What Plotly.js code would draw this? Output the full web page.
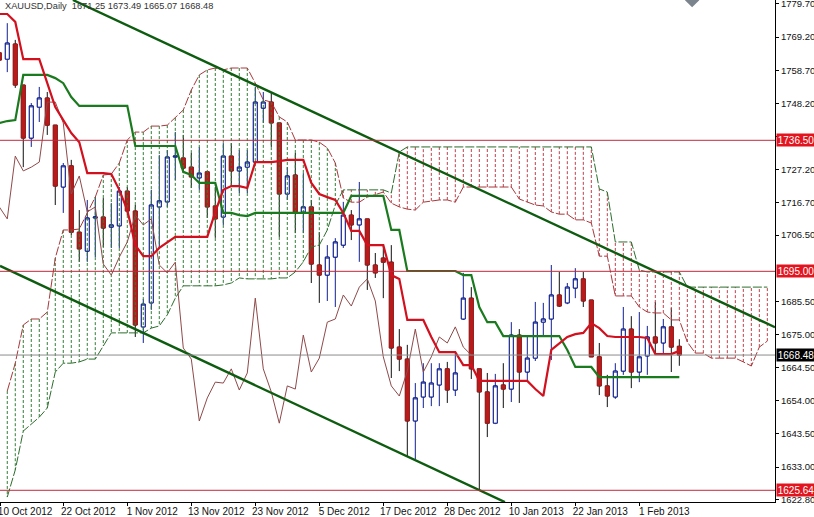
<!DOCTYPE html>
<html><head><meta charset="utf-8">
<script src="https://cdn.plot.ly/plotly-3.0.1.min.js"></script>
<style>html,body{margin:0;padding:0;background:#fff}#c{width:814px;height:517px}</style>
</head><body><div id="c"></div>
<script>
// bars -1 .. 84
const open=[1764.2,1762.2,1767.0,1754.0,1737.2,1747.0,1749.9,1741.3,1721.7,1728.4,
1707.4,1701.4,1711.9,1712.2,1709.0,1709.4,1720.4,1714.1,1677.4,1685.0,
1715.4,1717.0,1731.2,1730.9,1728.0,1724.6,1726.5,1715.7,1712.2,1731.5,
1726.8,1728.0,1729.6,1746.7,1748.6,1742.0,1719.5,1725.5,1713.8,1715.4,
1697.0,1693.8,1699.5,1703.3,1712.8,1709.7,1711.6,1697.0,1699.2,1697.9,
1671.0,1667.2,1647.6,1655.2,1655.2,1659.0,1664.1,1657.4,1679.9,1686.5,
1664.1,1656.8,1646.9,1659.0,1657.7,1674.8,1663.1,1667.5,1678.9,1679.9,
1687.5,1685.0,1689.7,1692.6,1685.9,1667.9,1658.7,1655.2,1663.4,1676.7,
1663.1,1668.2,1674.2,1672.3,1677.4,1671.25];
const high=[1768.3,1773.6,1768.3,1754.0,1748.3,1753.4,1751.8,1741.3,1729.3,1730.3,
1714.4,1717.6,1718.5,1718.2,1716.6,1721.7,1721.7,1716.0,1686.2,1720.8,
1731.8,1733.4,1739.1,1738.2,1732.5,1734.4,1726.5,1721.7,1735.6,1735.6,
1733.4,1733.4,1753.4,1751.8,1751.5,1742.0,1728.0,1732.5,1726.1,1717.6,
1707.4,1703.3,1705.5,1717.0,1714.4,1723.3,1711.6,1700.8,1703.3,1703.3,
1676.7,1671.7,1659.6,1665.9,1665.9,1665.9,1666.3,1669.1,1694.5,1690.0,
1664.1,1662.8,1662.5,1665.9,1678.9,1676.7,1674.2,1685.3,1685.0,1697.0,
1694.8,1691.3,1696.0,1694.8,1685.9,1672.3,1662.2,1665.9,1683.7,1680.8,
1682.1,1677.7,1685.3,1679.9,1683.4,1673.49];
const low=[1760.0,1758.1,1753.1,1728.0,1734.4,1742.3,1738.2,1716.0,1713.5,1706.5,
1698.0,1698.0,1699.5,1702.7,1702.4,1702.4,1712.8,1674.2,1672.3,1682.8,
1702.4,1715.4,1723.9,1726.1,1721.4,1720.8,1711.9,1705.6,1709.7,1721.7,
1719.8,1719.8,1729.3,1742.0,1734.4,1705.9,1717.6,1707.1,1707.1,1691.3,
1685.0,1685.6,1683.7,1702.4,1704.9,1698.0,1689.1,1692.9,1686.5,1661.2,
1663.4,1636.2,1635.5,1651.7,1652.3,1652.3,1653.3,1655.5,1679.6,1660.9,
1625.7,1642.5,1646.6,1651.7,1653.6,1653.3,1660.3,1666.6,1674.2,1666.9,
1683.7,1684.6,1686.5,1683.7,1667.9,1655.8,1652.0,1654.6,1662.2,1658.0,
1659.9,1662.2,1668.8,1668.8,1663.1,1665.07];
const close=[1761.9,1767.3,1754.0,1737.2,1747.4,1749.9,1741.3,1722.0,1728.4,1707.4,
1702.1,1711.9,1712.2,1708.7,1709.7,1720.4,1714.1,1678.0,1684.6,1716.0,
1717.3,1731.2,1731.5,1727.7,1724.9,1726.1,1715.4,1711.6,1731.5,1726.8,
1728.0,1729.6,1748.6,1748.6,1742.0,1719.5,1725.2,1713.8,1715.4,1697.3,
1693.8,1699.5,1704.3,1712.8,1709.7,1711.6,1697.0,1694.5,1697.9,1670.7,
1667.2,1647.6,1654.9,1659.9,1659.6,1664.1,1657.4,1662.8,1686.5,1664.1,
1656.8,1646.9,1658.7,1657.7,1674.8,1663.1,1667.5,1678.9,1679.9,1687.5,
1684.0,1690.0,1692.6,1685.6,1667.9,1658.7,1655.5,1663.4,1676.7,1663.1,
1667.9,1674.2,1672.3,1677.4,1671.0,1668.48];
const tenkan=[1776.5,1776.5,1774.0,1762.2,1762.2,1762.2,1754.6,1747.0,1742.9,1738.8,
1735.9,1726.1,1726.1,1726.1,1725.8,1720.8,1714.4,1703.3,1699.8,1699.8,
1702.4,1704.3,1705.9,1705.9,1705.9,1705.9,1705.9,1713.8,1720.8,1722.0,
1722.0,1721.4,1729.6,1729.6,1729.6,1729.9,1730.3,1730.3,1730.3,1723.0,
1719.5,1718.5,1717.6,1713.5,1707.8,1707.8,1703.3,1703.3,1703.3,1693.8,
1692.6,1679.6,1679.6,1679.6,1674.2,1669.4,1669.4,1669.4,1665.3,1665.3,
1660.3,1660.3,1660.3,1660.3,1660.3,1660.3,1660.3,1657.7,1655.5,1670.1,
1672.3,1674.2,1675.1,1675.5,1678.6,1677.0,1674.5,1674.2,1674.2,1674.2,
1674.2,1673.9,1668.8,1668.8,1668.8,1669.8];
const kijun=[1742.0,1742.6,1742.9,1757.2,1757.2,1757.2,1757.2,1756.2,1754.6,1750.2,
1747.4,1747.4,1747.4,1747.4,1747.4,1747.4,1747.4,1734.7,1734.7,1734.7,
1734.7,1734.7,1734.7,1726.5,1725.5,1723.0,1723.0,1723.0,1713.5,1713.5,
1712.8,1712.5,1713.5,1713.5,1713.5,1713.5,1713.5,1713.5,1713.5,1713.5,
1713.5,1713.5,1713.5,1713.5,1718.9,1718.9,1718.9,1718.9,1718.9,1708.1,
1708.1,1695.1,1695.1,1695.1,1695.1,1695.1,1695.1,1695.1,1693.8,1693.8,
1683.7,1678.9,1678.9,1674.5,1674.5,1674.5,1674.5,1674.5,1674.5,1674.5,
1674.5,1670.1,1664.7,1664.7,1664.7,1661.5,1661.5,1661.5,1661.5,1661.5,
1661.5,1661.5,1661.5,1661.5,1661.5,1661.5];
// bars -1 .. 58
const chikou=[1715.4,1711.6,1731.5,1726.8,1728.0,1729.6,1748.6,1748.6,1742.0,1719.5,
1725.2,1713.8,1715.4,1697.3,1693.8,1699.5,1704.3,1712.8,1709.7,1711.6,
1697.0,1694.5,1697.9,1670.7,1667.2,1647.6,1654.9,1659.9,1659.6,1664.1,
1657.4,1662.8,1686.5,1664.1,1656.8,1646.9,1658.7,1657.7,1674.8,1663.1,
1667.5,1678.9,1679.9,1687.5,1684.0,1690.0,1692.6,1685.6,1667.9,1658.7,
1655.5,1663.4,1676.7,1663.1,1667.9,1674.2,1672.3,1677.4,1671.0,1668.48];
// bars 0 .. 95
const spanA=[1657.1,1665.9,1678.0,1679.9,1679.9,1682.1,1699.2,1708.1,1708.1,1708.4,
1713.5,1718.5,1725.5,1725.8,1729.3,1736.6,1739.1,1739.1,1741.0,1741.0,
1741.3,1743.6,1746.1,1752.4,1757.2,1758.8,1759.4,1758.8,1759.4,1759.4,
1759.4,1754.6,1749.3,1748.6,1743.9,1742.3,1736.6,1736.6,1736.6,1735.9,
1734.1,1729.3,1718.2,1716.9,1716.9,1718.5,1719.2,1720.1,1716.6,1715.4,
1714.7,1714.4,1716.9,1717.3,1717.6,1717.6,1716.9,1721.7,1721.7,1721.7,
1721.7,1721.7,1721.7,1721.7,1717.9,1716.9,1716.0,1715.7,1713.8,1713.1,
1713.1,1711.3,1711.3,1710.3,1699.8,1699.8,1687.2,1687.2,1687.2,1683.7,
1682.1,1681.8,1681.8,1679.6,1679.6,1672.6,1669.1,1669.1,1667.5,1667.5,
1667.5,1667.5,1666.3,1665.0,1671.0,1672.9];
const spanB=[1623.5,1632.1,1644.4,1646.6,1648.8,1651.7,1663.1,1665.9,1665.9,1666.3,
1667.2,1667.2,1671.4,1675.5,1675.5,1675.5,1675.5,1675.5,1677.0,1677.7,
1681.2,1686.5,1690.4,1690.4,1690.4,1690.4,1690.4,1690.7,1691.3,1692.9,
1692.6,1692.6,1692.6,1692.6,1692.9,1692.9,1694.8,1698.0,1702.7,1703.3,
1708.1,1716.0,1720.8,1720.8,1720.8,1720.8,1720.8,1720.8,1719.8,1732.8,
1734.4,1734.4,1734.4,1734.4,1734.4,1734.4,1734.4,1734.4,1734.4,1734.4,
1734.4,1734.4,1734.4,1734.4,1734.4,1734.4,1734.4,1734.4,1734.4,1734.4,
1734.4,1734.4,1734.4,1734.4,1721.1,1720.1,1704.3,1704.3,1704.3,1695.4,
1694.8,1694.8,1694.8,1694.8,1694.8,1690.0,1690.0,1690.0,1690.0,1690.0,
1690.0,1690.0,1690.0,1690.0,1690.0,1690.0];
const trendUpX=[8.2,95.96], trendUpY=[1780.94,1677.3];
const trendLoX=[-0.91,62.2], trendLoY=[1696.7,1621.9];
const redLevels=[1736.50,1695.00,1625.64];
const lastPrice=1668.48;
const xTickVals=[-0.9,7,15,23,31,39,47,55,63,71,79];
const xTickText=['10 Oct 2012','22 Oct 2012','1 Nov 2012','13 Nov 2012','23 Nov 2012','5 Dec 2012','17 Dec 2012','28 Dec 2012','10 Jan 2013','22 Jan 2013','1 Feb 2013'];
const yTickVals=[1779.7,1769.2,1758.7,1748.2,1737.7,1727.2,1716.7,1706.5,1685.5,1675.0,1664.5,1654.0,1643.5,1633.0,1622.8];
const headerText='XAUUSD,Daily\u00a0\u00a01671.25 1673.49 1665.07 1668.48';
const FONT='Liberation Sans, sans-serif';

const barX=open.map((_,i)=>i-1);
const greenX=[],greenY=[],redX=[],redY=[];
spanA.forEach((a,i)=>{const b=spanB[i];
  if(a>b){greenX.push(i,i,null);greenY.push(a,b,null);}
  else{redX.push(i,i,null);redY.push(a,b,null);}});
const ln=(x,y,color,width,dash)=>({type:'scatter',mode:'lines',x,y,hoverinfo:'skip',line:{color,width,dash:dash||'solid'}});
const idx0=spanA.map((_,i)=>i);
const traces=[
 ln(greenX,greenY,'#2f7d34',1,'3px 2px'),
 ln(redX,redY,'#b8404a',1,'3px 2px'),
 ln(idx0,spanA,'#a8383c',1,'9px 2px'),
 ln(idx0,spanB,'#2c6e2c',1,'9px 2px'),
 {type:'candlestick',x:barX,open,high,low,close,whiskerwidth:0,hoverinfo:'skip',
  increasing:{line:{color:'#10208c',width:1},fillcolor:'#ffffff'},
  decreasing:{line:{color:'#101010',width:1},fillcolor:'#bb1a1a'}},
 {type:'candlestick',x:barX,open,close,
  high:open.map((o,i)=>Math.max(o,close[i])),low:open.map((o,i)=>Math.min(o,close[i])),
  whiskerwidth:0,hoverinfo:'skip',
  increasing:{line:{color:'#10208c',width:1},fillcolor:'#ffffff'},
  decreasing:{line:{color:'#a81c1c',width:1},fillcolor:'#bb1a1a'}},
 ln(chikou.map((_,i)=>i-1),chikou,'#8f4a4a',1),
 ln(barX,kijun,'#1a7a1e',2.2),
 ln(barX,tenkan,'#d2101e',2.2),
 ln(trendUpX,trendUpY,'#0e5c10',2.4),
 ln(trendLoX,trendLoY,'#0e5c10',2.4),
 {type:'scatter',mode:'markers',x:[85.6],y:[1780.9],hoverinfo:'skip',marker:{symbol:'diamond',size:11,color:'#7b838d'}}
];
const levelShapes=redLevels.map(v=>({type:'line',xref:'paper',x0:0,x1:1,yref:'y',y0:v,y1:v,line:{color:'#c4283c',width:1}}));
levelShapes.push({type:'line',xref:'paper',x0:0,x1:1,yref:'y',y0:lastPrice,y1:lastPrice,line:{color:'#8c8c8c',width:1}});
const tag=(v,bg)=>({xref:'paper',yref:'y',x:1,y:v,xanchor:'left',yanchor:'middle',xshift:1,width:38,height:12,borderpad:0,
  showarrow:false,align:'center',bgcolor:bg,text:v.toFixed(2),font:{family:FONT,size:10,color:'#fff'}});
const layout={width:814,height:517,margin:{l:0,r:39,t:0,b:15,pad:0},paper_bgcolor:'#fff',plot_bgcolor:'#fff',
 showlegend:false,boxgap:0.3,hovermode:false,
 xaxis:{type:'linear',range:[-0.91,95.96],rangeslider:{visible:false},showgrid:false,zeroline:false,showline:true,linecolor:'#000',linewidth:1,
  tickmode:'array',tickvals:xTickVals,ticktext:xTickText,ticks:'outside',ticklen:3,tickcolor:'#000',ticklabelshift:25,ticklabelstandoff:-3,ticklabeloverflow:'allow',
  tickfont:{family:FONT,size:10,color:'#111'},tickangle:0},
 yaxis:{side:'right',range:[1621.93,1780.94],showgrid:false,zeroline:false,showline:true,linecolor:'#000',linewidth:1,
  tickmode:'array',tickvals:yTickVals,ticktext:yTickVals.map(v=>v.toFixed(2)),ticks:'outside',ticklen:3,tickcolor:'#000',ticklabeloverflow:'allow',
  tickfont:{family:FONT,size:9.5,color:'#111'}},
 shapes:levelShapes,
 annotations:[
  {xref:'paper',yref:'paper',x:0,y:1,xanchor:'left',yanchor:'top',xshift:3,yshift:1,showarrow:false,text:headerText,font:{family:FONT,size:9.25,color:'#333'}},
  tag(redLevels[0],'#e3141e'),tag(redLevels[1],'#e3141e'),tag(redLevels[2],'#e3141e'),tag(lastPrice,'#000000')
 ]};
Plotly.newPlot('c',traces,layout,{staticPlot:true,displayModeBar:false});
</script></body></html>
